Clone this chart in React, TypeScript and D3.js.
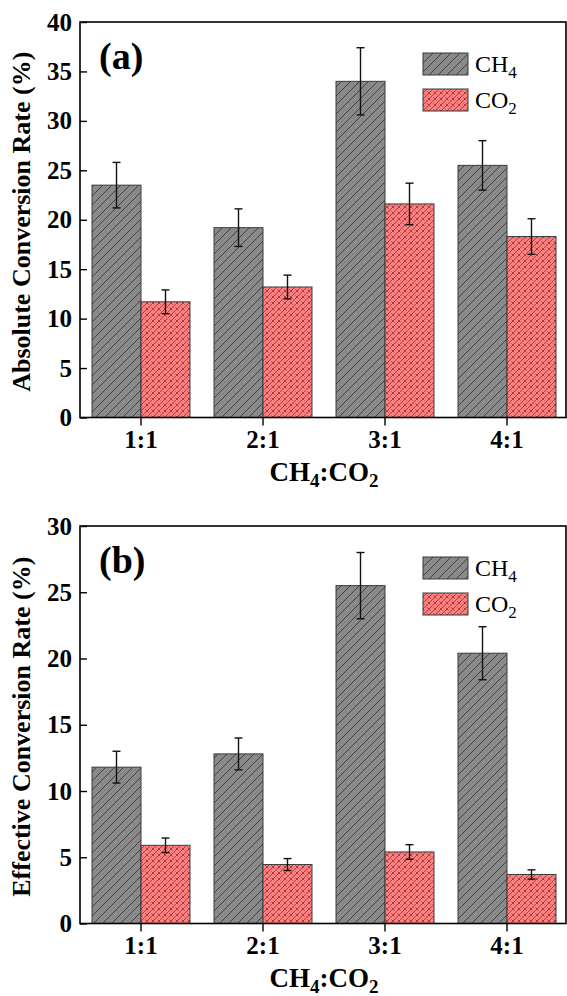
import * as d3 from "d3";
import React, { useEffect, useRef } from "react";

const categories = ["1:1", "2:1", "3:1", "4:1"];
const series = ["CH4", "CO2"];

// panel (a) absolute conversion
const absCH4 = [23.5, 19.2, 34.0, 25.5];
const absCH4Err = [2.3, 1.9, 3.4, 2.5];
const absCO2 = [11.7, 13.2, 21.6, 18.3];
const absCO2Err = [1.2, 1.2, 2.1, 1.8];
const absTicks = [0, 5, 10, 15, 20, 25, 30, 35, 40];

// panel (b) effective conversion
const effCH4 = [11.8, 12.8, 25.5, 20.4];
const effCH4Err = [1.2, 1.2, 2.5, 2.0];
const effCO2 = [5.9, 4.45, 5.4, 3.7];
const effCO2Err = [0.55, 0.45, 0.55, 0.35];
const effTicks = [0, 5, 10, 15, 20, 25, 30];

const FONT = "'Liberation Serif', 'Times New Roman', serif";

export default function App() {
  const svgRef = useRef<SVGSVGElement>(null);

  useEffect(() => {
    const svg = d3.select(svgRef.current);
    svg.selectAll("*").remove();

    const defs = svg.append("defs");
    // CH4 : grey with "/" hatch
    const p1 = defs.append("pattern")
      .attr("id", "hatchCH4")
      .attr("patternUnits", "userSpaceOnUse")
      .attr("width", 9).attr("height", 9);
    p1.append("rect").attr("width", 9).attr("height", 9).attr("fill", "#898989");
    p1.append("path")
      .attr("d", "M0,9 L9,0 M-2,2 L2,-2 M7,11 L11,7")
      .attr("stroke", "#3a3a3a").attr("stroke-width", 0.9);

    // CO2 : red with brick-like cross hatch
    const p2 = defs.append("pattern")
      .attr("id", "hatchCO2")
      .attr("patternUnits", "userSpaceOnUse")
      .attr("width", 6).attr("height", 6);
    p2.append("rect").attr("width", 6).attr("height", 6).attr("fill", "#ff8080");
    p2.append("path")
      .attr("d", "M0,6 L6,0 M-1,1 L1,-1 M5,7 L7,5 M1.5,1.5 L4.5,4.5")
      .attr("stroke", "#8c3030").attr("stroke-width", 0.8);

    const panels = [
      {
        top: 22, bottom: 417.5, max: 40, ticks: absTicks, label: "(a)",
        ylabel: "Absolute Conversion Rate (%)",
        values: [absCH4, absCO2], errs: [absCH4Err, absCO2Err],
        legendY: 53,
      },
      {
        top: 526, bottom: 923.5, max: 30, ticks: effTicks, label: "(b)",
        ylabel: "Effective Conversion Rate (%)",
        values: [effCH4, effCO2], errs: [effCH4Err, effCO2Err],
        legendY: 557,
      },
    ];

    const left = 80;
    const right = 566;

    const x0 = d3.scaleBand().domain(categories).range([left, 568]).padding(0);
    const x1 = d3.scaleBand().domain(series).range([0, x0.bandwidth()])
      .paddingInner(0).paddingOuter(0.245);
    const fills = ["url(#hatchCH4)", "url(#hatchCO2)"];

    panels.forEach((pn) => {
      const g = svg.append("g");
      const y = d3.scaleLinear().domain([0, pn.max]).range([pn.bottom, pn.top]);

      // bars
      series.forEach((s, si) => {
        g.append("g").selectAll("rect")
          .data(categories)
          .enter()
          .append("rect")
          .attr("x", (c) => x0(c)! + x1(s)!)
          .attr("y", (c, i) => y(pn.values[si][i]))
          .attr("width", x1.bandwidth())
          .attr("height", (c, i) => y(0) - y(pn.values[si][i]))
          .attr("fill", fills[si])
          .attr("stroke", "#3a3a3a")
          .attr("stroke-width", 1);

        // error bars
        const eb = g.append("g").selectAll("g")
          .data(categories)
          .enter()
          .append("g")
          .attr("stroke", "#111")
          .attr("stroke-width", 1.4);
        const cx = (c: string) => x0(c)! + x1(s)! + x1.bandwidth() / 2;
        eb.append("line")
          .attr("x1", cx).attr("x2", cx)
          .attr("y1", (c, i) => y(pn.values[si][i] + pn.errs[si][i]))
          .attr("y2", (c, i) => y(pn.values[si][i] - pn.errs[si][i]));
        [1, -1].forEach((sgn) => {
          eb.append("line")
            .attr("x1", (c) => cx(c) - 4).attr("x2", (c) => cx(c) + 4)
            .attr("y1", (c, i) => y(pn.values[si][i] + sgn * pn.errs[si][i]))
            .attr("y2", (c, i) => y(pn.values[si][i] + sgn * pn.errs[si][i]));
        });
      });

      // frame
      g.append("rect")
        .attr("x", left).attr("y", pn.top)
        .attr("width", right - left).attr("height", pn.bottom - pn.top)
        .attr("fill", "none").attr("stroke", "#000").attr("stroke-width", 1.6);

      // y axis (inward ticks)
      const ya = g.append("g")
        .attr("transform", `translate(${left},0)`)
        .call(d3.axisLeft(y).tickValues(pn.ticks).tickSize(-7).tickPadding(8));
      ya.select(".domain").remove();
      ya.selectAll("line").attr("stroke", "#000").attr("stroke-width", 1.4);
      ya.selectAll("text")
        .attr("font-family", FONT).attr("font-weight", "bold")
        .attr("font-size", 25).attr("fill", "#000");

      // x axis (outward ticks)
      const xa = g.append("g")
        .attr("transform", `translate(0,${pn.bottom})`)
        .call(d3.axisBottom(x0).tickSize(8).tickPadding(5));
      xa.select(".domain").remove();
      xa.selectAll("line").attr("stroke", "#000").attr("stroke-width", 1.4);
      xa.selectAll("text")
        .attr("font-family", FONT).attr("font-weight", "bold")
        .attr("font-size", 25).attr("fill", "#000");

      // x title
      const xt = g.append("text")
        .attr("x", 324)
        .attr("y", pn.bottom + 63)
        .attr("text-anchor", "middle")
        .attr("font-family", FONT).attr("font-weight", "bold")
        .attr("font-size", 27);
      xt.append("tspan").text("CH");
      xt.append("tspan").attr("dy", 6).attr("font-size", 19).text("4");
      xt.append("tspan").attr("dy", -6).text(":CO");
      xt.append("tspan").attr("dy", 6).attr("font-size", 19).text("2");

      // y title
      g.append("text")
        .attr("transform", `translate(30,${(pn.top + pn.bottom) / 2 + 2}) rotate(-90)`)
        .attr("text-anchor", "middle")
        .attr("font-family", FONT).attr("font-weight", "bold")
        .attr("font-size", 26)
        .text(pn.ylabel);

      // panel label
      g.append("text")
        .attr("x", 99).attr("y", pn.top + 47)
        .attr("font-family", FONT).attr("font-weight", "bold")
        .attr("font-size", 38)
        .text(pn.label);

      // legend
      series.forEach((s, si) => {
        const ly = pn.legendY + si * 36;
        g.append("rect")
          .attr("x", 423).attr("y", ly)
          .attr("width", 45).attr("height", 22)
          .attr("fill", fills[si])
          .attr("stroke", "#3a3a3a").attr("stroke-width", 1);
        const t = g.append("text")
          .attr("x", 475).attr("y", ly + 19)
          .attr("font-family", FONT).attr("font-size", 24);
        t.append("tspan").text(s.slice(0, 2));
        t.append("tspan").attr("dy", 6).attr("font-size", 17).text(s.slice(2));
      });
    });
  }, []);

  return (
    <svg
      ref={svgRef}
      width={567}
      height={996}
      style={{ position: "absolute", left: 0, top: 0, background: "#fff" }}
    />
  );
}
